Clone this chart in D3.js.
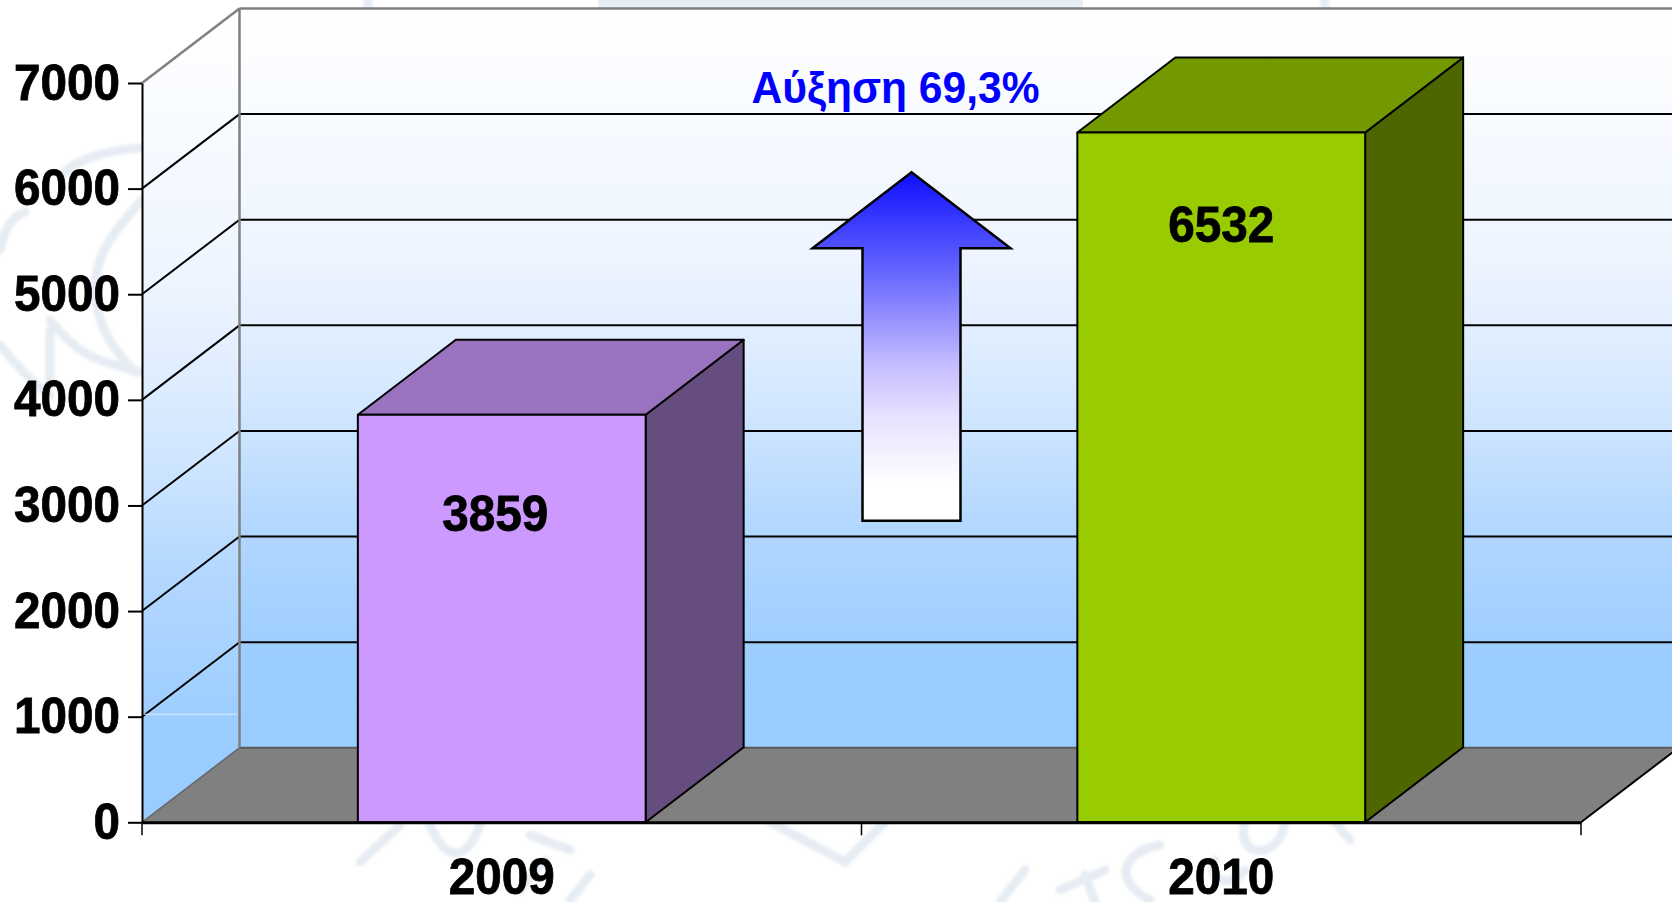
<!DOCTYPE html>
<html>
<head>
<meta charset="utf-8">
<script src="https://cdn.jsdelivr.net/npm/d3@7"></script>
<style>
    html, body { margin: 0; padding: 0; background: #fff; }
    svg { display: block; }
    text { font-family: "Liberation Sans", Arial, sans-serif; font-weight: bold; }
</style>
</head>
<body>
<div id="chart"></div>
<script>
const years = ['2009', '2010'];
const counts = [3859, 6532];
const barColors = ['#cc99ff', '#99cc00'];
const yTicks = [0, 1000, 2000, 3000, 4000, 5000, 6000, 7000];
const increaseLabel = 'Αύξηση 69,3%';

var width = 1672;
var height = 902;
var plot = {left: 142, right: 1581, top: 83, bottom: 822.3};
var depth = {x: 97.5, y: -74.5};

var svg = d3.select('#chart').append('svg')
    .attr('width', width)
    .attr('height', height);

var xScale = d3.scaleBand()
    .domain(years)
    .range([plot.left, plot.right])
    .paddingInner(0.6)
    .paddingOuter(0.3);

var yScale = d3.scaleLinear()
    .domain([0, 7000])
    .range([plot.bottom, plot.top]);

var pts = (list) => list.map(p => p[0] + ',' + p[1]).join(' ');

// The original labels are a tall, slightly condensed Arial
function condense(sel, charWidth) {
    sel.attr('textLength', function() { return this.textContent.length * charWidth; })
        .attr('lengthAdjust', 'spacingAndGlyphs')
        .attr('stroke', '#000')
        .attr('stroke-width', 0.8);
}

// Gradients for the walls and the arrow
var defs = svg.append('defs');

function addGradient(id, stops) {
    var grad = defs.append('linearGradient')
        .attr('id', id)
        .attr('x1', 0).attr('y1', 0)
        .attr('x2', 0).attr('y2', 1);
    stops.forEach(s => {
        grad.append('stop').attr('offset', s[0]).attr('stop-color', s[1]);
    });
}
addGradient('wall', [[0, '#ffffff'], [0.33, '#eef5ff'], [0.47, '#ddecff'], [0.57, '#cce4ff'],
    [0.69, '#b4d8ff'], [0.88, '#9ccdff'], [1, '#99ccff']]);
addGradient('arrow', [[0, '#0f0fff'], [0.3, '#6a6aff'], [0.55, '#c4bcff'],
    [0.7, '#e6e2ff'], [0.9, '#ffffff'], [1, '#ffffff']]);

defs.append('filter')
    .attr('id', 'soft')
    .append('feGaussianBlur')
    .attr('stdDeviation', 1.6);

// Faint background emblem, only the parts the plot does not cover
var mark = svg.append('g')
    .attr('fill', 'none')
    .attr('stroke', '#e6ecf3')
    .attr('stroke-width', 9)
    .attr('stroke-linecap', 'round')
    .attr('filter', 'url(#soft)');
[
    'M142,148 C105,150 75,160 62,175',
    'M0,250 C5,225 15,215 25,212',
    'M142,200 C120,225 95,250 95,290 C97,330 115,350 135,372',
    'M0,345 C20,370 35,385 50,395',
    'M50,330 L50,385 M50,320 C70,345 85,355 105,362 L140,372',
    'M368,0 L368,7 M1325,0 L1325,7',
    'M360,862 L400,825 M430,825 C445,860 465,865 480,825',
    'M530,835 L570,850 M520,890 L545,860 M570,900 L590,875',
    'M770,822 L845,862 L885,822',
    'M1000,902 L1025,870 M1060,890 L1105,870 M1085,875 L1095,902',
    'M1150,900 C1110,880 1125,850 1160,845',
    'M1215,860 C1205,880 1230,890 1245,870 M1245,822 C1235,860 1280,860 1285,822 M1335,822 L1350,840'
].forEach(d => mark.append('path').attr('d', d));
svg.append('rect')
    .attr('x', 598).attr('y', 0)
    .attr('width', 485).attr('height', 8)
    .attr('fill', '#e8eef5');

// Back wall and side wall
var back = (x, y) => [x + depth.x, y + depth.y];
svg.append('rect')
    .attr('x', plot.left + depth.x)
    .attr('y', plot.top + depth.y)
    .attr('width', width)
    .attr('height', plot.bottom - plot.top)
    .attr('fill', 'url(#wall)');
svg.append('polygon')
    .attr('points', pts([[plot.left, plot.top], back(plot.left, plot.top),
        back(plot.left, plot.bottom), [plot.left, plot.bottom]]))
    .attr('fill', 'url(#wall)');

// Floor
svg.append('polygon')
    .attr('points', pts([[plot.left, plot.bottom], back(plot.left, plot.bottom),
        back(plot.right, plot.bottom), [plot.right, plot.bottom]]))
    .attr('fill', '#808080');
svg.append('line')
    .attr('x1', plot.left + depth.x).attr('x2', width)
    .attr('y1', plot.bottom + depth.y).attr('y2', plot.bottom + depth.y)
    .attr('stroke', '#5a5a5a').attr('stroke-width', 2);
svg.append('line')
    .attr('x1', plot.left).attr('y1', plot.bottom)
    .attr('x2', plot.left + depth.x).attr('y2', plot.bottom + depth.y)
    .attr('stroke', '#666').attr('stroke-width', 1.5);
svg.append('line')
    .attr('x1', plot.right).attr('y1', plot.bottom)
    .attr('x2', plot.right + depth.x).attr('y2', plot.bottom + depth.y)
    .attr('stroke', '#000').attr('stroke-width', 2);

// Gridlines, skipping the floor; the top one is grey
var gridTicks = yTicks.slice(1);
gridTicks.forEach(t => {
    var y = yScale(t);
    var color = t === 7000 ? '#808080' : '#000';
    var w = t === 7000 ? 2.5 : 2;
    svg.append('line')
        .attr('x1', plot.left).attr('y1', y)
        .attr('x2', plot.left + depth.x).attr('y2', y + depth.y)
        .attr('stroke', color).attr('stroke-width', w);
    svg.append('line')
        .attr('x1', plot.left + depth.x).attr('x2', width)
        .attr('y1', y + depth.y).attr('y2', y + depth.y)
        .attr('stroke', color).attr('stroke-width', w);
});

// Wall corner and the thin highlight on the side wall
svg.append('line')
    .attr('x1', plot.left + depth.x).attr('x2', plot.left + depth.x)
    .attr('y1', plot.top + depth.y).attr('y2', plot.bottom + depth.y)
    .attr('stroke', '#808080').attr('stroke-width', 2.5);
svg.append('line')
    .attr('x1', plot.left).attr('x2', plot.left + depth.x - 2)
    .attr('y1', yScale(1000) - 2.5).attr('y2', yScale(1000) - 2.5)
    .attr('stroke', '#dcecff').attr('stroke-width', 1);

// Bars
var bars = svg.selectAll('.bar')
    .data(years.map((year, i) => ({year: year, value: counts[i], color: barColors[i]})))
    .enter().append('g')
    .attr('class', 'bar')
    .attr('stroke', '#000')
    .attr('stroke-width', 2)
    .attr('stroke-linejoin', 'round');

var shade = (color, k) => {
    var c = d3.rgb(color);
    return d3.rgb(c.r * k, c.g * k, c.b * k).formatHex();
};
var barDepth = {x: 98, y: -75};

bars.append('polygon')
    .attr('points', d => {
        var x1 = xScale(d.year) + xScale.bandwidth();
        var y = yScale(d.value);
        return pts([[x1, y], [x1 + barDepth.x, y + barDepth.y],
            [x1 + barDepth.x, plot.bottom + barDepth.y], [x1, plot.bottom]]);
    })
    .attr('fill', d => shade(d.color, 0.5));

bars.append('polygon')
    .attr('points', d => {
        var x0 = xScale(d.year);
        var x1 = x0 + xScale.bandwidth();
        var y = yScale(d.value);
        return pts([[x0, y], [x0 + barDepth.x, y + barDepth.y],
            [x1 + barDepth.x, y + barDepth.y], [x1, y]]);
    })
    .attr('fill', d => shade(d.color, 0.75));

bars.append('rect')
    .attr('x', d => xScale(d.year))
    .attr('y', d => yScale(d.value))
    .attr('width', xScale.bandwidth())
    .attr('height', d => plot.bottom - yScale(d.value))
    .attr('fill', d => d.color);

// Value labels sit inside the front face, hand placed as on the slide
var labelShift = [{x: -6.5, y: 116}, {x: 0, y: 110}];
svg.selectAll('.bar-label')
    .data(years.map((year, i) => ({year: year, value: counts[i], shift: labelShift[i]})))
    .enter().append('text')
    .attr('class', 'bar-label')
    .attr('x', d => xScale(d.year) + xScale.bandwidth() / 2 + d.shift.x)
    .attr('y', d => yScale(d.value) + d.shift.y)
    .attr('text-anchor', 'middle')
    .attr('font-size', 50)
    .text(d => d.value)
    .call(condense, 26.5);

// Axes
var yAxis = svg.append('g')
    .attr('class', 'axis y-axis')
    .attr('transform', 'translate(' + plot.left + ',0)')
    .call(d3.axisLeft(yScale).tickValues(yTicks).tickFormat(d3.format('d'))
        .tickSize(14).tickPadding(8).tickSizeOuter(0));
yAxis.select('.domain').attr('stroke-width', 2);
yAxis.selectAll('.tick line').attr('stroke-width', 2);
yAxis.selectAll('.tick text')
    .attr('font-size', 50)
    .attr('font-family', '"Liberation Sans", Arial, sans-serif')
    .attr('fill', '#000')
    .call(condense, 26.5);

var xAxis = svg.append('g')
    .attr('class', 'axis x-axis')
    .attr('transform', 'translate(0,' + plot.bottom + ')')
    .call(d3.axisBottom(xScale).tickSize(0).tickPadding(36).tickSizeOuter(0));
xAxis.select('.domain').attr('stroke-width', 3);
xAxis.selectAll('.tick text')
    .attr('font-size', 50)
    .attr('font-family', '"Liberation Sans", Arial, sans-serif')
    .attr('fill', '#000')
    .call(condense, 26.5);

// Category boundary ticks
d3.range(years.length + 1).forEach(i => {
    var x = plot.left + i * xScale.step();
    xAxis.append('line')
        .attr('x1', x).attr('x2', x)
        .attr('y1', 0).attr('y2', 13)
        .attr('stroke', '#000').attr('stroke-width', 1.5);
});

// Increase arrow, spanning the gap between the bars
var arrowX = plot.left + xScale.step() + 50;
var arrowTop = yScale(6155);
var arrowBase = yScale(5435);
var arrowEnd = yScale(2855);
svg.append('polygon')
    .attr('points', pts([
        [arrowX, arrowTop], [arrowX + 99, arrowBase], [arrowX + 49, arrowBase],
        [arrowX + 49, arrowEnd], [arrowX - 49, arrowEnd], [arrowX - 49, arrowBase],
        [arrowX - 99, arrowBase]
    ]))
    .attr('fill', 'url(#arrow)')
    .attr('stroke', '#000')
    .attr('stroke-width', 2.5);

svg.append('text')
    .attr('x', arrowX - 16)
    .attr('y', 103)
    .attr('text-anchor', 'middle')
    .attr('font-size', 44)
    .attr('fill', '#0000ff')
    .attr('textLength', 288)
    .attr('lengthAdjust', 'spacingAndGlyphs')
    .text(increaseLabel);
</script>
</body>
</html>
